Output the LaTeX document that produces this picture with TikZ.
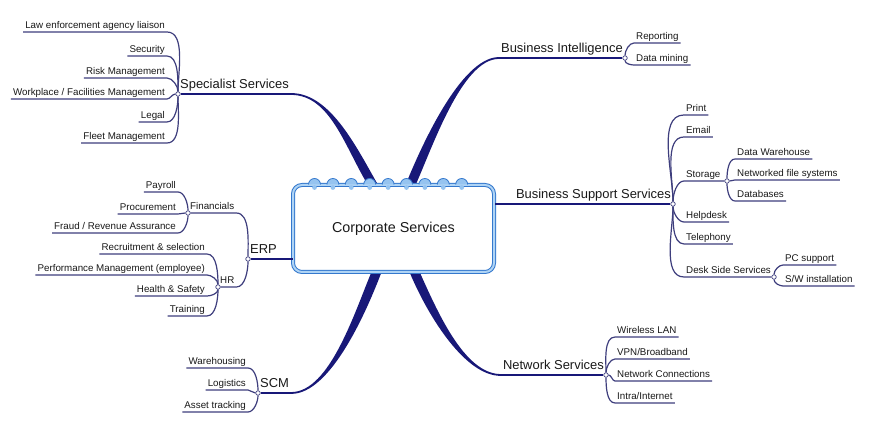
\documentclass[tikz,border=0pt]{standalone}
\usepackage{fontspec}
\setmainfont{Liberation Sans}
\usetikzlibrary{calc,backgrounds}
\definecolor{navy}{RGB}{24,24,120}
\definecolor{twigblue}{RGB}{62,62,125}
\definecolor{boxblue}{RGB}{52,120,205}
\definecolor{boxlight}{RGB}{175,212,245}
\definecolor{ringfill}{RGB}{150,196,240}
\definecolor{inktext}{RGB}{25,25,25}

\begin{document}
\begin{tikzpicture}[
		x=1bp, y=1bp,
		every node/.style={text=inktext},
		leaf/.style={font=\fontsize{9.8}{11}\selectfont, inner xsep=2bp, inner ysep=1.5bp, text height=7.5bp, text depth=2.2bp},
		topic/.style={font=\fontsize{13}{15}\selectfont, inner xsep=2bp, inner ysep=2bp, text height=9.8bp, text depth=2.8bp},
		hub/.style={circle, draw=twigblue, fill=white, line width=0.7bp, inner sep=0pt, minimum size=4.5bp},
		twig/.style={draw=twigblue, line width=1.2bp, looseness=0.8},
		limb/.style={draw=navy, line width=1.8bp},
		corebox/.style={draw=boxblue, double=boxlight, double distance=2bp, line width=1bp, fill=white, rounded corners=9bp, minimum width=201bp, minimum height=87bp, font=\fontsize{14.4}{17}\selectfont},
		ring/.style={draw=boxblue, fill=ringfill, line width=0.8bp}
		]
		\useasboundingbox (0,0) rectangle (878,441);
		
		% Centre box
		\node[corebox] (cs) at (393.5,212.5) {Corporate Services};
		\foreach \i in {0,...,8} {
			\coordinate (ring\i) at ($(cs.north west)+(22+18.4*\i,0)$);
			\filldraw[ring] ($(ring\i)+(-6,0)$) arc[start angle=180, end angle=0, radius=6];
			\fill[ringfill] ($(ring\i)+(0,-3)$) circle (2.4);
		}
		
		% Hubs
		\node[hub] (spec-dot) at (178,347) {};
		\node[hub] (bi-dot) at (625,383) {};
		\node[hub] (bss-dot) at (673,237) {};
		\node[hub] (erp-dot) at (248,182) {};
		\node[hub] (scm-dot) at (258,48) {};
		\node[hub] (net-dot) at (606,66) {};
		\node[hub] (fin-dot) at (188,228) {};
		\node[hub] (hr-dot) at (218,154) {};
		\node[hub] (stor-dot) at (727,260) {};
		\node[hub] (desk-dot) at (774,164) {};
		
		% Main topics
		\node[topic, anchor=south west] (spec) at (178,347) {Specialist Services};
		\node[topic, anchor=south east] (bi) at (625,383) {Business Intelligence};
		\node[topic, anchor=south east] (bss) at (673,237) {Business Support Services};
		\node[topic, anchor=south west] (erp) at (248,182) {ERP};
		\node[topic, anchor=south west] (scm) at (258,48) {SCM};
		\node[topic, anchor=south east] (net) at (606,66) {Network Services};
		
		% Sub topics
		\node[leaf, anchor=south west] (fin) at (188,228) {Financials};
		\node[leaf, anchor=south west] (hr) at (218,154) {HR};
		\node[leaf, anchor=south west] (stor) at (684,260) {Storage};
		\node[leaf, anchor=south west] (desk) at (684,164) {Desk Side Services};
		
		% Leaves, left side
		\node[leaf, anchor=south east] (law) at (167,409) {Law enforcement agency liaison};
		\node[leaf, anchor=south east] (sec) at (167,385) {Security};
		\node[leaf, anchor=south east] (risk) at (167,363) {Risk Management};
		\node[leaf, anchor=south east] (work) at (167,342) {Workplace / Facilities Management};
		\node[leaf, anchor=south east] (legal) at (167,319) {Legal};
		\node[leaf, anchor=south east] (fleet) at (167,298) {Fleet Management};
		
		\node[leaf, anchor=south east] (pay) at (178,249) {Payroll};
		\node[leaf, anchor=south east] (proc) at (178,227) {Procurement};
		\node[leaf, anchor=south east] (fraud) at (178,208) {Fraud / Revenue Assurance};
		
		\node[leaf, anchor=south east] (recr) at (207,187) {Recruitment \& selection};
		\node[leaf, anchor=south east] (perf) at (207,166) {Performance Management (employee)};
		\node[leaf, anchor=south east] (health) at (207,145) {Health \& Safety};
		\node[leaf, anchor=south east] (train) at (207,125) {Training};
		
		\node[leaf, anchor=south east] (ware) at (248,73) {Warehousing};
		\node[leaf, anchor=south east] (logi) at (248,51) {Logistics};
		\node[leaf, anchor=south east] (asset) at (248,29) {Asset tracking};
		
		% Leaves, right side
		\node[leaf, anchor=south west] (rep) at (634,398) {Reporting};
		\node[leaf, anchor=south west] (mine) at (634,376) {Data mining};
		
		\node[leaf, anchor=south west] (print) at (684,326) {Print};
		\node[leaf, anchor=south west] (email) at (684,304) {Email};
		\node[leaf, anchor=south west] (help) at (684,219) {Helpdesk};
		\node[leaf, anchor=south west] (tele) at (684,197) {Telephony};
		
		\node[leaf, anchor=south west] (dw) at (735,282) {Data Warehouse};
		\node[leaf, anchor=south west] (nfs) at (735,261) {Networked file systems};
		\node[leaf, anchor=south west] (db) at (735,240) {Databases};
		
		\node[leaf, anchor=south west] (pc) at (783,176) {PC support};
		\node[leaf, anchor=south west] (sw) at (783,155) {S/W installation};
		
		\node[leaf, anchor=south west] (wlan) at (615,104) {Wireless LAN};
		\node[leaf, anchor=south west] (vpn) at (615,82) {VPN/Broadband};
		\node[leaf, anchor=south west] (conn) at (615,60) {Network Connections};
		\node[leaf, anchor=south west] (intra) at (615,38) {Intra/Internet};
		
		% Twigs
		\foreach \leaf/\dir in {law/90, sec/90, risk/90, work/180, legal/270, fleet/270}
			\draw[twig] (spec-dot) to[out=\dir, in=0] (\leaf.south east) -- (\leaf.south west);
		\foreach \leaf/\dir in {pay/90, proc/180, fraud/270}
			\draw[twig] (fin-dot) to[out=\dir, in=0] (\leaf.south east) -- (\leaf.south west);
		\foreach \leaf/\dir in {recr/90, perf/90, health/270, train/270}
			\draw[twig] (hr-dot) to[out=\dir, in=0] (\leaf.south east) -- (\leaf.south west);
		\foreach \leaf/\dir in {ware/90, logi/180, asset/270}
			\draw[twig] (scm-dot) to[out=\dir, in=0] (\leaf.south east) -- (\leaf.south west);
		\foreach \leaf/\dir in {rep/90, mine/270}
			\draw[twig] (bi-dot) to[out=\dir, in=180] (\leaf.south west) -- (\leaf.south east);
		\foreach \leaf/\dir in {print/90, email/90, help/270, tele/270}
			\draw[twig] (bss-dot) to[out=\dir, in=180] (\leaf.south west) -- (\leaf.south east);
		\foreach \leaf/\dir in {dw/90, nfs/0, db/270}
			\draw[twig] (stor-dot) to[out=\dir, in=180] (\leaf.south west) -- (\leaf.south east);
		\foreach \leaf/\dir in {pc/90, sw/270}
			\draw[twig] (desk-dot) to[out=\dir, in=180] (\leaf.south west) -- (\leaf.south east);
		\foreach \leaf/\dir in {wlan/90, vpn/90, conn/0, intra/270}
			\draw[twig] (net-dot) to[out=\dir, in=180] (\leaf.south west) -- (\leaf.south east);
		\draw[twig] (erp-dot) to[out=90, in=0] (fin.south east) -- (fin-dot);
		\draw[twig] (erp-dot) to[out=270, in=0] (hr.south east) -- (hr-dot);
		\draw[twig] (bss-dot) to[out=90, in=180] (stor.south west) -- (stor-dot);
		\draw[twig] (bss-dot) to[out=270, in=180] (desk.south west) -- (desk-dot);
		
		% Limbs to the centre box
		\draw[limb] (spec-dot) -- (spec.south east);
		\draw[limb] (bi-dot) -- (bi.south west);
		\draw[limb] (scm-dot) -- (scm.south east);
		\draw[limb] (net-dot) -- (net.south west);
		\draw[limb] (erp-dot) -- (erp-dot -| cs.west);
		\draw[limb] (bss-dot) -- (bss-dot -| cs.east);
		\begin{pgfonlayer}{background}
			\fill[white] (0,0) rectangle (878,441);
			\fill[navy] ([yshift=0.9bp]spec.south east) .. controls +(40,0) and +(-22,38) .. ($(cs.north)+(-14,-3)$)
				-- ($(cs.north)+(-24,-3)$) .. controls +(-24,38) and +(40,0) .. ([yshift=-0.9bp]spec.south east) -- cycle;
			\fill[navy] ([yshift=0.9bp]bi.south west) .. controls +(-38,0) and +(16,40) .. ($(cs.north)+(11,-3)$)
				-- ($(cs.north)+(21,-3)$) .. controls +(18,40) and +(-37,0) .. ([yshift=-0.9bp]bi.south west) -- cycle;
			\fill[navy] ([yshift=-0.9bp]scm.south east) .. controls +(40,0) and +(-15,-40) .. ($(cs.south)+(-11,3)$)
				-- ($(cs.south)+(-21,3)$) .. controls +(-17,-40) and +(39,0) .. ([yshift=0.9bp]scm.south east) -- cycle;
			\fill[navy] ([yshift=-0.9bp]net.south west) .. controls +(-38,0) and +(16,-40) .. ($(cs.south)+(15,3)$)
				-- ($(cs.south)+(25,3)$) .. controls +(18,-40) and +(-37,0) .. ([yshift=0.9bp]net.south west) -- cycle;
		\end{pgfonlayer}
		
	\end{tikzpicture}
\end{document}
